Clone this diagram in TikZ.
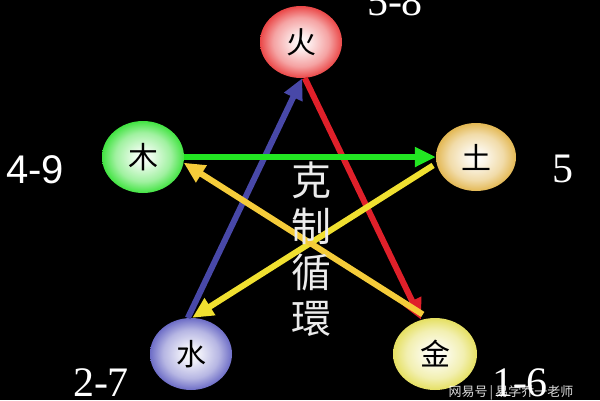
\documentclass[tikz,border=0pt]{standalone}
\usepackage{fontspec}
\setmainfont{Liberation Serif}
\newfontfamily\cjk{Noto Sans CJK SC}
\newfontfamily\numsans{Liberation Sans}
\usetikzlibrary{shapes.geometric,arrows.meta}
\definecolor{cgreen}{HTML}{22E622}
\definecolor{cyel}{HTML}{F0E030}
\definecolor{cyelo}{HTML}{F5CC3A}
\definecolor{cblue}{HTML}{4848A8}
\definecolor{cred}{HTML}{E0202A}
\definecolor{chuo}{HTML}{E83232}
\definecolor{cmu}{HTML}{2CE02C}
\definecolor{cgold}{HTML}{E0B040}
\definecolor{cshui}{HTML}{5C5CC0}
\definecolor{cjinc}{HTML}{E2DC50}
\newcommand{\mkshade}[2]{%
  \pgfdeclareradialshading{#1}{\pgfpoint{0bp}{0bp}}{%
    color(0bp)=(white); color(6bp)=(#2!12!white); color(17bp)=(#2!45!white);
    color(26bp)=(#2!95!white); color(30bp)=(#2); color(50bp)=(#2)}}
\mkshade{shhuo}{chuo}
\mkshade{shmu}{cmu}
\mkshade{shtu}{cgold}
\mkshade{shshui}{cshui}
\mkshade{shjin}{cjinc}
\tikzset{
  elem/.style={ellipse, minimum width=82pt, minimum height=72pt, inner sep=0pt,
    font=\cjk\fontsize{30}{30}\selectfont, text=black},
  num/.style={text=white, font=\fontsize{42}{42}\selectfont, inner sep=0pt},
  arr/.style={line width=6pt, -{Triangle[length=21pt,width=19pt]}},
}
\begin{document}
\begin{tikzpicture}[x=1pt,y=-1pt]
\useasboundingbox (0,0) rectangle (600,400);
\clip (0,0) rectangle (600,400);
\fill[black] (0,0) rectangle (600,400);
\node[elem, shading=shhuo] (huo) at (301,42) {火};
\node[elem, shading=shmu] (mu) at (143,157) {木};
\node[elem, shading=shtu, minimum width=80pt, minimum height=68pt] (tu) at (476,157) {土};
\node[elem, shading=shshui] (shui) at (191,354) {水};
\node[elem, shading=shjin, minimum width=84pt] (jin) at (435,354) {金};
% arrows
\draw[arr, cblue] (shui.95) -- (huo.-88);
\draw[arr, cred] (huo.-84) -- (jin.112);
\draw[arr, cgreen] (mu.0) -- (tu.180);
\draw[arr, cyel, shorten <=4pt] (tu.189) -- (shui.88);
\draw[arr, cyelo, shorten <=7pt] (jin.100) -- (mu.-8);
% center text
\node[text=white!92!black, font=\cjk\fontsize{40}{46}\selectfont, align=center, inner sep=0pt] (txt) at (311,249) {克\\制\\循\\環};
% numbers
\node[num] (n58) at (395,2) {5-8};
\node[num, font=\numsans\fontsize{40}{40}\selectfont] (n49) at (35,170) {4-9};
\node[num] (n5) at (563,169) {5};
\node[num] (n27) at (101,383) {2-7};
\node[num] (n16) at (520,383) {1-6};
\node[text=white, opacity=0.85, font=\cjk\fontsize{13}{13}\selectfont, inner sep=0pt] (wm) at (511,393) {网易号\,|\,易学乔一老师};
\end{tikzpicture}
\end{document}
